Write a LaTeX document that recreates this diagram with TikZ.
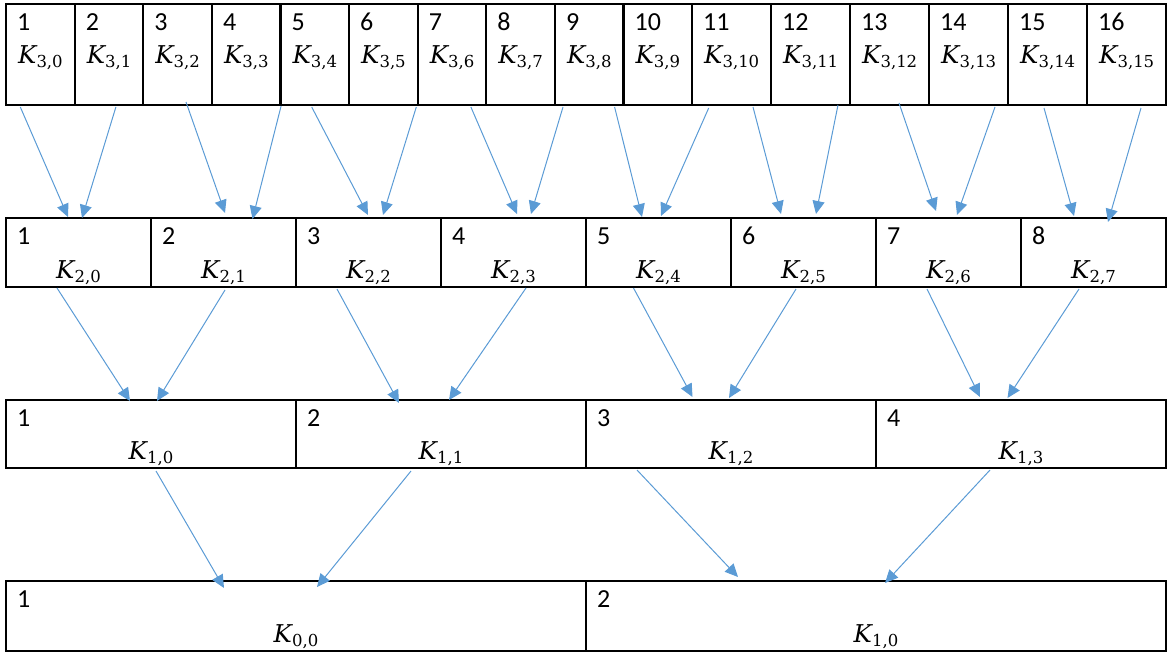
\documentclass[tikz,border=0pt]{standalone}
\usepackage[no-math]{fontspec}
\setmainfont{Carlito}
\newfontfamily\keyfont{DejaVu Serif}
\usetikzlibrary{positioning, arrows.meta}
\definecolor{linkblue}{HTML}{5B9BD5}
% key name K_{level,index}
\newcommand{\kname}[2]{{\keyfont\fontsize{24.5}{28}\selectfont\itshape K}%
  \raisebox{-4.5pt}{\keyfont\fontsize{16.5}{20}\selectfont #1,#2}}

\begin{document}
\begin{tikzpicture}[x=1pt, y=-1pt, font=\fontsize{26}{30}\selectfont,
    cell/.style={draw, line width=2.2pt, inner sep=0pt, outer sep=0pt},
    keycell/.style={cell, minimum width=68.6pt, minimum height=101pt},
    widecell/.style={cell, minimum width=79pt, minimum height=101pt},
    halfcell/.style={cell, minimum width=145pt, minimum height=69pt},
    quartcell/.style={cell, minimum width=290pt, minimum height=68pt},
    rootcell/.style={cell, minimum width=580pt, minimum height=70pt},
    num/.style={anchor=base west, inner sep=0pt, xshift=11pt, yshift=-26pt},
    topk/.style={anchor=base west, inner sep=0pt, xshift=12pt, yshift=-59pt},
    lowk/.style={anchor=base, inner sep=0pt, yshift=9pt},
    link/.style={draw=linkblue, line width=1pt, -{Triangle[length=13pt, width=12pt]}}]

        \useasboundingbox (0,0) rectangle (1168,654);

        % Level 3 keys
        \node[keycell, label={[num]north west:1}, label={[topk]north west:\kname{3}{0}}] (a1) at (40.3,54.5) {};
        \node[keycell, right=0pt of a1, label={[num]north west:2}, label={[topk]north west:\kname{3}{1}}] (a2) {};
        \node[keycell, right=0pt of a2, label={[num]north west:3}, label={[topk]north west:\kname{3}{2}}] (a3) {};
        \node[keycell, right=0pt of a3, label={[num]north west:4}, label={[topk]north west:\kname{3}{3}}] (a4) {};
        \node[keycell, right=0pt of a4, label={[num]north west:5}, label={[topk]north west:\kname{3}{4}}] (a5) {};
        \node[keycell, right=0pt of a5, label={[num]north west:6}, label={[topk]north west:\kname{3}{5}}] (a6) {};
        \node[keycell, right=0pt of a6, label={[num]north west:7}, label={[topk]north west:\kname{3}{6}}] (a7) {};
        \node[keycell, right=0pt of a7, label={[num]north west:8}, label={[topk]north west:\kname{3}{7}}] (a8) {};
        \node[keycell, right=0pt of a8, label={[num]north west:9}, label={[topk]north west:\kname{3}{8}}] (a9) {};
        \node[keycell, right=0pt of a9, label={[num]north west:10}, label={[topk]north west:\kname{3}{9}}] (a10) {};
        \node[widecell, right=0pt of a10, label={[num]north west:11}, label={[topk]north west:\kname{3}{10}}] (a11) {};
        \node[widecell, right=0pt of a11, label={[num]north west:12}, label={[topk]north west:\kname{3}{11}}] (a12) {};
        \node[widecell, right=0pt of a12, label={[num]north west:13}, label={[topk]north west:\kname{3}{12}}] (a13) {};
        \node[widecell, right=0pt of a13, label={[num]north west:14}, label={[topk]north west:\kname{3}{13}}] (a14) {};
        \node[widecell, right=0pt of a14, label={[num]north west:15}, label={[topk]north west:\kname{3}{14}}] (a15) {};
        \node[widecell, right=0pt of a15, label={[num]north west:16}, label={[topk]north west:\kname{3}{15}}] (a16) {};

        % Level 2 keys
        \node[halfcell, label={[num]north west:1}, label={[lowk]south:\kname{2}{0}}] (b1) at (78.5,252.5) {};
        \node[halfcell, right=0pt of b1, label={[num]north west:2}, label={[lowk]south:\kname{2}{1}}] (b2) {};
        \node[halfcell, right=0pt of b2, label={[num]north west:3}, label={[lowk]south:\kname{2}{2}}] (b3) {};
        \node[halfcell, right=0pt of b3, label={[num]north west:4}, label={[lowk]south:\kname{2}{3}}] (b4) {};
        \node[halfcell, right=0pt of b4, label={[num]north west:5}, label={[lowk]south:\kname{2}{4}}] (b5) {};
        \node[halfcell, right=0pt of b5, label={[num]north west:6}, label={[lowk]south:\kname{2}{5}}] (b6) {};
        \node[halfcell, right=0pt of b6, label={[num]north west:7}, label={[lowk]south:\kname{2}{6}}] (b7) {};
        \node[halfcell, right=0pt of b7, label={[num]north west:8}, label={[lowk]south:\kname{2}{7}}] (b8) {};

        % Level 1 keys
        \node[quartcell, label={[num]north west:1}, label={[lowk]south:\kname{1}{0}}] (c1) at (151,434) {};
        \node[quartcell, right=0pt of c1, label={[num]north west:2}, label={[lowk]south:\kname{1}{1}}] (c2) {};
        \node[quartcell, right=0pt of c2, label={[num]north west:3}, label={[lowk]south:\kname{1}{2}}] (c3) {};
        \node[quartcell, right=0pt of c3, label={[num]north west:4}, label={[lowk]south:\kname{1}{3}}] (c4) {};

        % Level 0 keys
        \node[rootcell, label={[num]north west:1}, label={[lowk]south:\kname{0}{0}}] (d1) at (296,616) {};
        \node[rootcell, right=0pt of d1, label={[num]north west:2}, label={[lowk]south:\kname{1}{0}}] (d2) {};

        % Level 3 to level 2
        \draw[link] ([xshift=-20pt,yshift=-2pt]a1.south) -- ([xshift=-10.5pt,yshift=1pt]b1.north);
        \draw[link] ([xshift=7pt,yshift=-2pt]a2.south) -- ([xshift=3.5pt]b1.north);
        \draw[link] ([xshift=8.5pt,yshift=3pt]a3.south) -- ([xshift=1.5pt,yshift=5pt]b2.north);
        \draw[link] ([xshift=35pt,yshift=-1pt]a4.south) -- ([xshift=29pt,yshift=-1pt]b2.north);
        \draw[link] ([xshift=-3pt,yshift=-2pt]a5.south) -- ([xshift=-0.5pt,yshift=3pt]b3.north);
        \draw[link] ([xshift=33pt,yshift=-2pt]a6.south) -- ([xshift=14.5pt,yshift=3pt]b3.north);
        \draw[link] ([xshift=19pt,yshift=-2pt]a7.south) -- ([xshift=3.5pt,yshift=4pt]b4.north);
        \draw[link] ([xshift=42.5pt,yshift=-2pt]a8.south) -- ([xshift=17.5pt,yshift=4pt]b4.north);
        \draw[link] ([xshift=25.5pt,yshift=-2pt]a9.south) -- ([xshift=-16.5pt,yshift=1pt]b5.north);
        \draw[link] ([xshift=51pt,yshift=-3pt]a10.south) -- ([xshift=2.5pt,yshift=2pt]b5.north);
        \draw[link] ([xshift=21.5pt,yshift=-2pt]a11.south) -- ([xshift=-22.5pt,yshift=4pt]b6.north);
        \draw[link] ([xshift=27.5pt]a12.south) -- ([xshift=12.5pt,yshift=4pt]b6.north);
        \draw[link] ([xshift=9.5pt,yshift=2pt]a13.south) -- ([xshift=-12.5pt,yshift=7pt]b7.north);
        \draw[link] ([xshift=26.5pt,yshift=-2pt]a14.south) -- ([xshift=8.5pt,yshift=3pt]b7.north);
        \draw[link] ([xshift=-3.5pt,yshift=-3pt]a15.south) -- ([xshift=-19.5pt,yshift=2pt]b8.north);
        \draw[link] ([xshift=14.5pt,yshift=-3pt]a16.south) -- ([xshift=14.5pt,yshift=-4pt]b8.north);

        % Level 2 to level 1
        \draw[link] ([xshift=-21.5pt,yshift=-1pt]b1.south) -- ([xshift=-21pt,yshift=-1pt]c1.north);
        \draw[link] ([xshift=1.5pt,yshift=-3pt]b2.south) -- ([xshift=6pt,yshift=-1pt]c1.north);
        \draw[link] ([xshift=-31.5pt,yshift=-2pt]b3.south) -- ([xshift=-42pt,yshift=-3pt]c2.north);
        \draw[link] ([xshift=12.5pt,yshift=-1pt]b4.south) -- ([xshift=8pt]c2.north);
        \draw[link] ([xshift=-25pt,yshift=-1pt]b5.south) -- ([xshift=-38.5pt,yshift=3pt]c3.north);
        \draw[link] ([xshift=-7.5pt,yshift=-2pt]b6.south) -- ([xshift=-2pt,yshift=2pt]c3.north);
        \draw[link] ([xshift=-21.5pt,yshift=-2pt]b7.south) -- ([xshift=-41pt,yshift=3pt]c4.north);
        \draw[link] ([xshift=-14.5pt,yshift=-2pt]b8.south) -- ([xshift=-13.5pt,yshift=2pt]c4.north);

        % Level 1 to level 0
        \draw[link] ([xshift=5pt,yshift=-3pt]c1.south) -- ([xshift=-72pt,yshift=-7pt]d1.north);
        \draw[link] ([xshift=-30pt,yshift=-3pt]c2.south) -- ([xshift=21pt,yshift=-6pt]d1.north);
        \draw[link] ([xshift=-94pt,yshift=-2pt]c3.south) -- ([xshift=-138pt,yshift=4pt]d2.north);
        \draw[link] ([xshift=-31pt,yshift=-2pt]c4.south) -- ([xshift=9pt,yshift=-2pt]d2.north);

    \end{tikzpicture}
\end{document}
